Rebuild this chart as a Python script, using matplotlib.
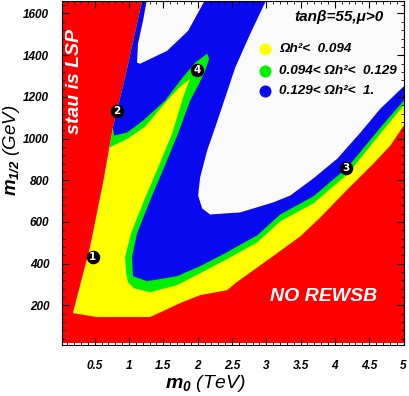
import matplotlib
matplotlib.use("Agg")
import matplotlib.pyplot as plt
from matplotlib.ticker import FixedLocator, MultipleLocator

# ---------------- data (m0 in TeV, m1/2 in GeV) ----------------
SCAN_M0 = [0.0, 5.05]
SCAN_M12 = [20, 1720]

# stau-LSP boundary (left red region)
STAU_M0 = [0.182, 0.431, 0.620, 0.766, 0.956, 1.190, 1.233]
STAU_M12 = [163, 478, 785, 1053, 1311, 1660, 1720]

# no-REWSB boundary (lower-right red region)
NOREWSB_M0 = [0.182, 0.533, 1.307, 1.526, 1.745, 2.036, 2.431, 2.547, 3.015,
              3.496, 3.788, 4.182, 4.562, 4.810, 5.05]
NOREWSB_M12 = [163, 144, 144, 177, 211, 249, 273, 306, 416,
               531, 622, 756, 880, 967, 1085]

# Omega h^2 = 0.094 contour (yellow / green border)
G_M0 = [0.715, 0.985, 1.234, 1.555, 1.745, 1.891, 1.832, 1.774, 1.628, 1.423,
        1.219, 1.029, 0.942, 0.956, 0.985, 1.073, 1.307, 1.701, 2.036, 2.372,
        2.869, 3.204, 3.686, 4.182, 4.664, 5.05]
G_M12 = [957, 1000, 1057, 1182, 1249, 1287, 1239, 1182, 1024, 861,
         703, 545, 431, 359, 311, 282, 263, 297, 354, 412,
         502, 603, 689, 828, 1024, 1178]

# Omega h^2 = 0.129 contour (green / blue border)
B_M0 = [0.781, 0.971, 1.204, 1.526, 1.745, 1.964, 2.139, 2.168, 2.109, 2.007,
        1.891, 1.715, 1.511, 1.307, 1.117, 1.044, 1.058, 1.263, 1.701, 2.036,
        2.372, 2.869, 3.204, 3.686, 4.182, 4.664, 5.05]
B_M12 = [1014, 1029, 1086, 1182, 1278, 1364, 1407, 1383, 1325, 1254,
         1182, 1024, 861, 703, 545, 431, 340, 316, 340, 388,
         445, 536, 636, 723, 861, 1053, 1200]

# Omega h^2 = 1 contours (white regions)
W1_M0 = [3.08, 2.766, 2.547, 2.387, 2.255, 2.139, 2.036, 2.007, 2.066, 2.182,
         2.620, 3.102, 3.350, 3.686, 4.036, 4.372, 4.664, 5.05, 5.05]
W1_M12 = [1720, 1502, 1340, 1182, 1053, 943, 813, 727, 665, 636,
          646, 694, 727, 809, 904, 1029, 1144, 1265, 1720]
W2_M0 = [1.29, 1.204, 1.131, 1.117, 1.161, 1.555, 1.861, 2.20]
W2_M12 = [1720, 1565, 1455, 1364, 1359, 1421, 1517, 1720]

# benchmark points
BP_LABELS = ["1", "2", "3", "4"]
BP_M0 = [0.474, 0.825, 4.168, 1.993]
BP_M12 = [431, 1134, 861, 1330]

LEG_LABELS = ["\u03A9h\u00B2<  0.094", "0.094< \u03A9h\u00B2<  0.129", "0.129< \u03A9h\u00B2<  1."]
XTICKS = [0.5, 1, 1.5, 2, 2.5, 3, 3.5, 4, 4.5, 5]
XTICKLABELS = ["0.5", "1", "1.5", "2", "2.5", "3", "3.5", "4", "4.5", "5"]
YTICKS = [200, 400, 600, 800, 1000, 1200, 1400, 1600]

RED, YEL, GRN, BLU, WHT = "#ff0000", "#ffff00", "#00f000", "#0a0af0", "#fafafa"
LEG_COLORS = [YEL, GRN, BLU]

# ---------------- style ----------------
plt.rcParams["font.family"] = ["Liberation Sans", "DejaVu Sans"]
plt.rcParams["font.weight"] = "bold"
plt.rcParams["font.style"] = "italic"
plt.rcParams["mathtext.fontset"] = "custom"
plt.rcParams["mathtext.rm"] = "Liberation Sans:bold:italic"
plt.rcParams["mathtext.it"] = "Liberation Sans:bold:italic"
plt.rcParams["mathtext.bf"] = "Liberation Sans:bold:italic"

fig = plt.figure(figsize=(4.09, 3.96), dpi=100)
ax = fig.add_axes([0.151, 0.1288, 0.8356, 0.8687])
ax.set_xlim(0.02, 5.0)
ax.set_ylim(10, 1660)
ax.set_facecolor("white")

# red background of the scan
ax.fill_between(SCAN_M0, SCAN_M12[0], SCAN_M12[1], color=RED, lw=0, zorder=0.5)

# yellow: allowed region
yx = STAU_M0 + [SCAN_M0[1]] + NOREWSB_M0[::-1]
yy = STAU_M12 + [SCAN_M12[1]] + NOREWSB_M12[::-1]
ax.fill(yx, yy, color=YEL, lw=0, zorder=0.6)

def close_on_stau(bx, by):
    sx = [x for x, y in zip(STAU_M0, STAU_M12) if y > by[0]][::-1]
    sy = [y for y in STAU_M12 if y > by[0]][::-1]
    return bx + [SCAN_M0[1]] + sx, by + [SCAN_M12[1]] + sy

gx, gy = close_on_stau(G_M0, G_M12)
ax.fill(gx, gy, color=GRN, lw=0, zorder=0.7)
bx, by = close_on_stau(B_M0, B_M12)
ax.fill(bx, by, color=BLU, lw=0, zorder=0.8)
ax.fill(W1_M0, W1_M12, color=WHT, lw=0, zorder=0.9)
ax.fill(W2_M0, W2_M12, color=WHT, lw=0, zorder=0.9)

# benchmark points
ax.scatter(BP_M0, BP_M12, s=95, c="black", zorder=5, linewidths=0)
for lab, x, y in zip(BP_LABELS, BP_M0, BP_M12):
    ax.text(x, y, lab, color="white", fontsize=7.5, fontweight="bold", fontstyle="normal",
            family="DejaVu Sans", ha="center", va="center", zorder=6)

# ticks
ax.xaxis.set_major_locator(FixedLocator(XTICKS))
ax.set_xticklabels(XTICKLABELS)
ax.xaxis.set_minor_locator(MultipleLocator(0.1))
ax.yaxis.set_major_locator(FixedLocator(YTICKS))
ax.yaxis.set_minor_locator(MultipleLocator(40))
ax.tick_params(which="both", direction="in", top=True, right=True, color="black")
ax.tick_params(which="major", length=5, width=0.8, labelsize=8.5)
ax.tick_params(which="minor", length=2.5, width=0.6)
ax.tick_params(axis="x", which="major", pad=11)
ax.tick_params(axis="y", which="major", pad=9)
for s in ax.spines.values():
    s.set_linewidth(0.8)

ax.set_xlabel(r"$m_0$ (TeV)", fontsize=14)
ax.set_ylabel(r"$m_{1/2}$ (GeV)", fontsize=13.5)
ax.xaxis.set_label_coords(0.42, -0.081)
ax.yaxis.set_label_coords(-0.117, 0.567)

# annotations
ax.text(0.036, 0.765, "stau is LSP", transform=ax.transAxes, rotation=90,
        color="white", fontsize=14, ha="center", va="center", zorder=7)
ax.text(0.765, 0.140, "NO REWSB", transform=ax.transAxes,
        color="white", fontsize=14, ha="center", va="center", zorder=7)
ax.text(0.81, 0.953, "tan\u03B2=55,\u03BC>0", transform=ax.transAxes,
        color="black", fontsize=11, ha="center", va="center", zorder=7)

LEG_Y = [0.860, 0.797, 0.738]
for lab, col, yy_ in zip(LEG_LABELS, LEG_COLORS, LEG_Y):
    ax.scatter([0.595], [yy_], s=75, c=col, transform=ax.transAxes, zorder=7,
               linewidths=0, clip_on=False)
    ax.text(0.637, yy_, lab, transform=ax.transAxes, fontsize=9.7,
            ha="left", va="center", zorder=7)

fig.savefig("out.png", dpi=100)
